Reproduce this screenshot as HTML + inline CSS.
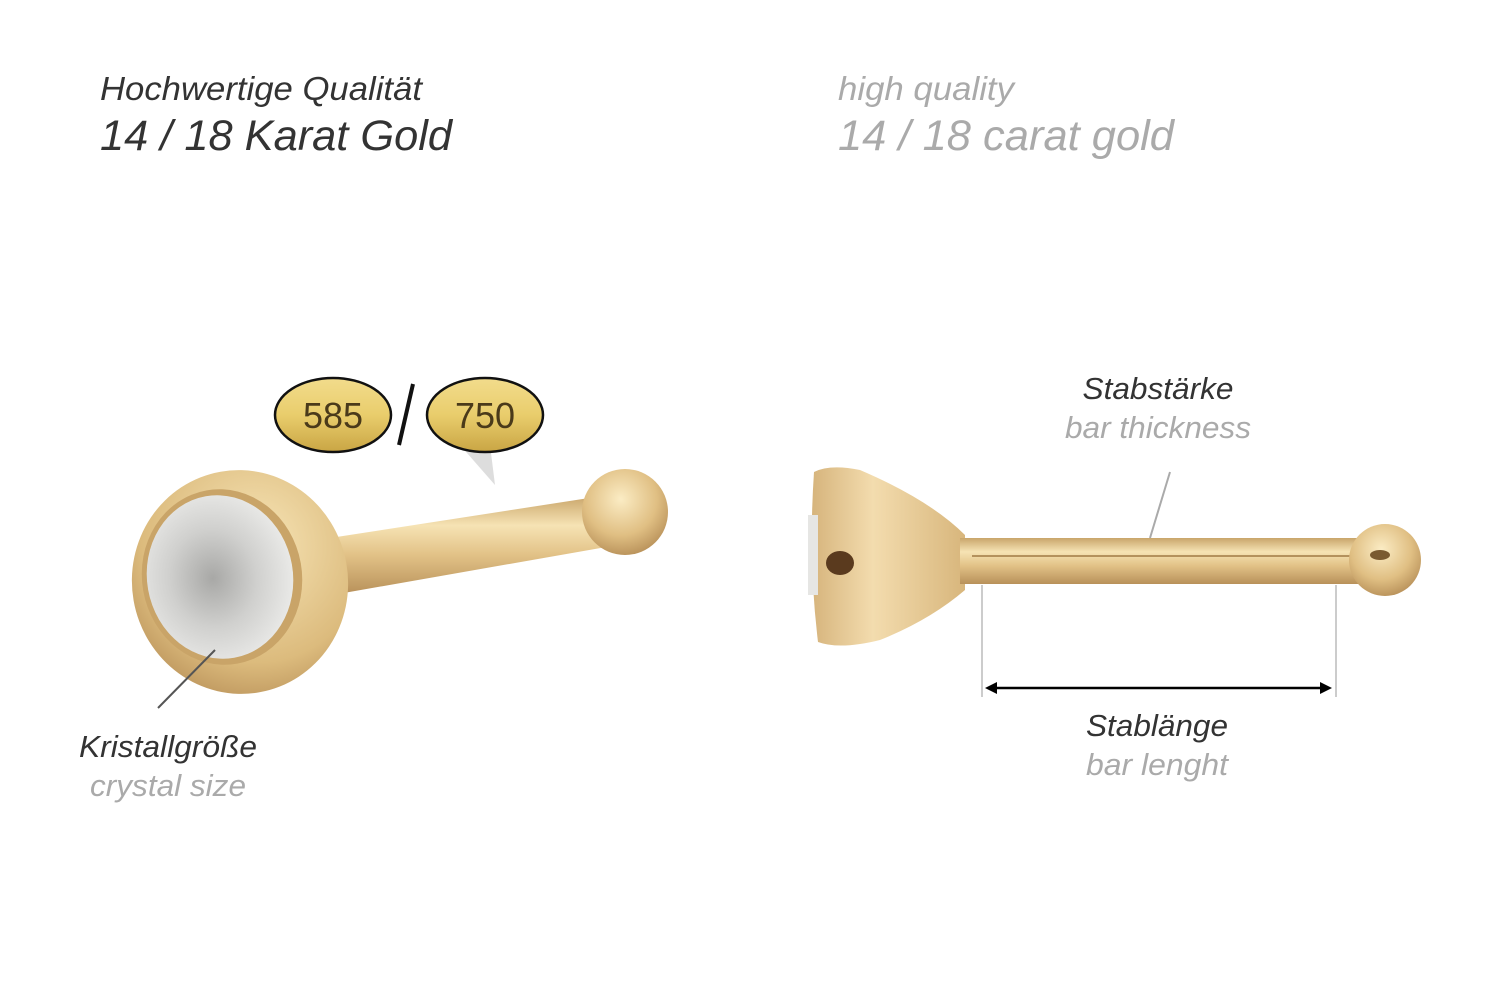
<!DOCTYPE html>
<html><head><meta charset="utf-8"><style>
html,body{margin:0;padding:0;background:#fff;}
svg{display:block;}
text{font-family:"Liberation Sans",sans-serif;font-style:italic;}
</style></head><body>
<svg width="1500" height="1001" viewBox="0 0 1500 1001" xmlns="http://www.w3.org/2000/svg">
<defs>
<linearGradient id="barL" x1="0" y1="0" x2="0" y2="1">
<stop offset="0" stop-color="#c9a56a"/><stop offset="0.3" stop-color="#f6e3b4"/><stop offset="0.6" stop-color="#e2c287"/><stop offset="1" stop-color="#b8915a"/></linearGradient>
<radialGradient id="ball" cx="0.45" cy="0.35" r="0.7"><stop offset="0" stop-color="#fbecc4"/><stop offset="0.6" stop-color="#e0bf83"/><stop offset="1" stop-color="#b48c55"/></radialGradient>
<radialGradient id="bez" cx="0.6" cy="0.35" r="0.75"><stop offset="0" stop-color="#f8e6b8"/><stop offset="0.7" stop-color="#dcbb7d"/><stop offset="1" stop-color="#b89058"/></radialGradient>
<radialGradient id="cry" cx="0.45" cy="0.5" r="0.6"><stop offset="0" stop-color="#a8a8a6"/><stop offset="0.5" stop-color="#d0d0ce"/><stop offset="1" stop-color="#eeeeec"/></radialGradient>
<linearGradient id="oval" x1="0" y1="0" x2="0" y2="1"><stop offset="0" stop-color="#f2dc8c"/><stop offset="0.5" stop-color="#e9cd6c"/><stop offset="1" stop-color="#c9a544"/></linearGradient>
<linearGradient id="head" x1="0" y1="0" x2="1" y2="0"><stop offset="0" stop-color="#d6b47c"/><stop offset="0.4" stop-color="#f3dcae"/><stop offset="1" stop-color="#d8b67c"/></linearGradient>
</defs>

<text x="100" y="100" font-size="33" fill="#333" textLength="322" lengthAdjust="spacingAndGlyphs">Hochwertige Qualität</text>
<text x="100" y="150" font-size="43" fill="#333" textLength="352" lengthAdjust="spacingAndGlyphs">14 / 18 Karat Gold</text>
<text x="838" y="100" font-size="33" fill="#aaa" textLength="176" lengthAdjust="spacingAndGlyphs">high quality</text>
<text x="838" y="150" font-size="43" fill="#aaa" textLength="336" lengthAdjust="spacingAndGlyphs">14 / 18 carat gold</text>

<!-- left piece -->
<polygon points="460,445 490,445 495,485" fill="#ddd"/>
<polygon points="330,538 602,496 612,546 338,594" fill="url(#barL)"/>
<circle cx="625" cy="512" r="43" fill="url(#ball)"/>
<ellipse cx="240" cy="582" rx="108" ry="112" transform="rotate(-10 240 582)" fill="url(#bez)"/>
<ellipse cx="222" cy="577" rx="80" ry="88" transform="rotate(-10 222 577)" fill="#c9a468"/>
<ellipse cx="220" cy="577" rx="73" ry="82" transform="rotate(-10 220 577)" fill="url(#cry)"/>
<line x1="158" y1="708" x2="215" y2="650" stroke="#555" stroke-width="2"/>

<ellipse cx="333" cy="415" rx="58" ry="37" fill="url(#oval)" stroke="#111" stroke-width="2.5"/>
<text x="333" y="428" font-size="36" text-anchor="middle" fill="#4a3a1a" style="font-style:normal">585</text>
<ellipse cx="485" cy="415" rx="58" ry="37" fill="url(#oval)" stroke="#111" stroke-width="2.5"/>
<text x="485" y="428" font-size="36" text-anchor="middle" fill="#4a3a1a" style="font-style:normal">750</text>
<line x1="413" y1="384" x2="399" y2="445" stroke="#111" stroke-width="4"/>

<text x="168" y="757" font-size="31" text-anchor="middle" fill="#333" textLength="178" lengthAdjust="spacingAndGlyphs">Kristallgröße</text>
<text x="168" y="796" font-size="31" text-anchor="middle" fill="#aaa" textLength="156" lengthAdjust="spacingAndGlyphs">crystal size</text>

<!-- right piece -->
<path d="M814,472 Q830,464 860,470 Q930,500 965,535 L965,590 Q930,620 880,640 Q840,650 818,642 Q808,560 814,472 Z" fill="url(#head)"/>
<rect x="808" y="515" width="10" height="80" fill="#e6e6e4"/>
<ellipse cx="840" cy="563" rx="14" ry="12" fill="#5a3a1e"/>
<rect x="960" y="538" width="400" height="46" fill="url(#barL)"/>
<line x1="972" y1="556" x2="1355" y2="556" stroke="#a07a45" stroke-width="1.5"/>
<circle cx="1385" cy="560" r="36" fill="url(#ball)"/>
<ellipse cx="1380" cy="555" rx="10" ry="5" fill="#7a5a30"/>
<line x1="1170" y1="472" x2="1150" y2="538" stroke="#aaa" stroke-width="2"/>
<line x1="982" y1="585" x2="982" y2="697" stroke="#ccc" stroke-width="2"/>
<line x1="1336" y1="585" x2="1336" y2="697" stroke="#ccc" stroke-width="2"/>
<line x1="992" y1="688" x2="1324" y2="688" stroke="#000" stroke-width="2.5"/>
<polygon points="985,688 997,682 997,694" fill="#000"/>
<polygon points="1332,688 1320,682 1320,694" fill="#000"/>

<text x="1158" y="399" font-size="31" text-anchor="middle" fill="#333" textLength="151" lengthAdjust="spacingAndGlyphs">Stabstärke</text>
<text x="1158" y="438" font-size="31" text-anchor="middle" fill="#aaa" textLength="186" lengthAdjust="spacingAndGlyphs">bar thickness</text>
<text x="1157" y="736" font-size="31" text-anchor="middle" fill="#333" textLength="142" lengthAdjust="spacingAndGlyphs">Stablänge</text>
<text x="1157" y="775" font-size="31" text-anchor="middle" fill="#aaa" textLength="142" lengthAdjust="spacingAndGlyphs">bar lenght</text>
</svg>
</body></html>
